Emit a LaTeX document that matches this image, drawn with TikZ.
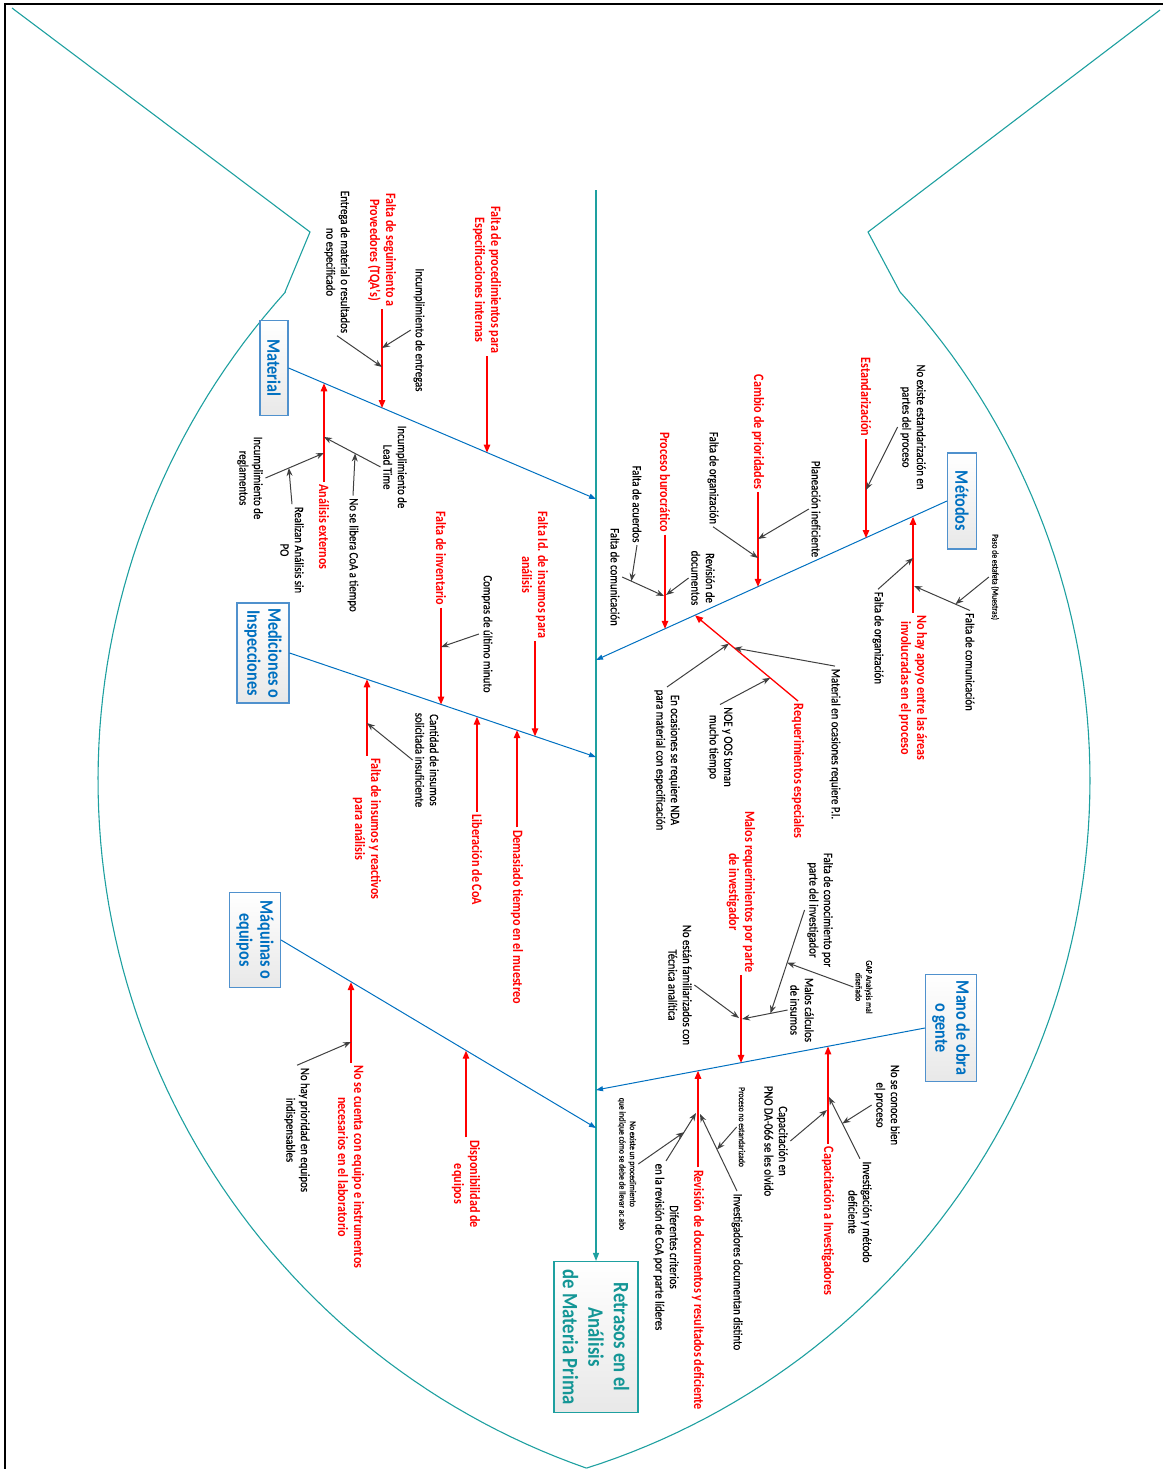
\documentclass[tikz,border=0pt]{standalone}
\usepackage{fontspec}
\setmainfont{Carlito}[FakeStretch=0.85]
\newfontfamily\blkfamily{Carlito}[FakeStretch=0.85, FakeBold=0.35]
\usetikzlibrary{arrows.meta,calc}

\definecolor{bonec}{RGB}{0,112,192}
\definecolor{fishc}{RGB}{30,160,160}
\definecolor{effc}{RGB}{20,150,150}
\definecolor{boxline}{RGB}{80,145,205}
\definecolor{arrc}{RGB}{64,64,64}
\definecolor{cred}{RGB}{255,0,0}

\newcommand\fsRed{\fontsize{14.3}{16}\selectfont\bfseries}
\newcommand\fsBlk{\blkfamily\fontsize{12.7}{14.5}\selectfont}
\newcommand\fsTiny{\blkfamily\fontsize{9}{10.5}\selectfont}
\newcommand\fsCat{\fontsize{19}{21}\selectfont\bfseries}
\newcommand\fsEff{\fontsize{22}{25.5}\selectfont\bfseries}

\tikzset{
  redlab/.style={rotate=-90, text=cred, font=\fsRed, align=center, inner sep=2.5pt},
  blklab/.style={rotate=-90, font=\fsBlk, align=center, inner sep=2.5pt},
  tinylab/.style={rotate=-90, font=\fsTiny, align=center, inner sep=2pt},
  catbox/.style={rotate=-90, draw=boxline, line width=1.1pt, top color=white,
    bottom color=black!9, text=bonec, font=\fsCat, align=center, inner sep=0pt},
  effbox/.style={rotate=-90, draw=fishc, line width=1.1pt, top color=white,
    bottom color=black!9, text=effc, font=\fsEff, align=center, inner sep=0pt},
  fishline/.style={draw=fishc, line width=1.1pt},
  spinearrow/.style={draw=fishc, line width=1.2pt, -{Triangle[length=8pt,width=6pt]}},
  bonearrow/.style={draw=bonec, line width=1pt, -{Triangle[length=7pt,width=5pt]}},
  redarrow/.style={draw=cred, line width=1.3pt, -{Triangle[length=8pt,width=6.5pt]}},
  greyarrow/.style={draw=arrc, line width=1pt, -{Stealth[length=8pt,width=6pt]}}
}

\begin{document}
\begin{tikzpicture}[x=1pt,y=-1pt]
\useasboundingbox (0,0) rectangle (1163,1469);

% frame
\draw[line width=2pt] (5,1469) -- (5,4) -- (1163,4);

% fish outline
\draw[fishline] (12,8) -- (310,232) -- (285,292)
  -- plot[domain=222:109.3, samples=90, variable=\t] ({827+729*cos(\t)},{780+729*sin(\t)});
\draw[fishline] (1160,10) -- (868,232) -- (900,292)
  -- plot[domain=-42.5:72.4, samples=90, variable=\t] ({368+722*cos(\t)},{780+722*sin(\t)});

% effect and spine
\node[effbox, minimum width=151pt, minimum height=84pt] (eff) at (596,1337)
  {Retrasos en el\\Análisis\\de Materia Prima};
\coordinate (sTop) at (596,190);
\draw[spinearrow] (sTop) -- (eff.west);

% category boxes
\node[catbox, minimum width=95pt, minimum height=28pt] (mat) at (274,368) {Material};
\node[catbox, minimum width=100pt, minimum height=52pt] (med) at (263,653) {Mediciones o\\Inspecciones};
\node[catbox, minimum width=95pt, minimum height=51pt] (maq) at (255,940) {Máquinas o\\equipos};
\node[catbox, minimum width=96pt, minimum height=29pt] (met) at (962,501) {Métodos};
\node[catbox, minimum width=107pt, minimum height=51pt] (mano) at (951,1028) {Mano de obra\\o gente};

% main bones
\coordinate (sMat) at (596,499);
\coordinate (sMet) at (596,660);
\coordinate (sMed) at (596,757);
\coordinate (sMano) at (596,1090);
\coordinate (sMaq) at (596,1128);
\draw[bonearrow] (mat.north) -- (sMat);
\draw[bonearrow] (med.north) -- (sMed);
\draw[bonearrow] (maq.north) -- (sMaq);
\draw[bonearrow] (met.south) -- (sMet);
\draw[bonearrow] (mano.south) -- (sMano);

% ---------- Material ----------
\node[redlab] (r1) at (487,280) {Falta de procedimientos para\\Especificaciones internas};
\coordinate (pA) at (487,452.6);
\draw[redarrow] (r1) -- (pA);
\node[redlab] (r2) at (382,250) {Falta de seguimiento a\\Proveedores (TQA’s)};
\coordinate (pB) at (382,408);
\draw[redarrow] (r2) -- (pB);
\node[blklab] (k1) at (419,330) {Incumplimiento de entregas};
\coordinate (q1) at (382,348);
\draw[greyarrow] (k1.south) -- (q1);
\node[blklab] (k2) at (337,262) {Entrega de material o resultados\\no especificado};
\coordinate (q2) at (382,367);
\draw[greyarrow] (k2.east) -- (q2);
\node[redlab] (r3) at (324,527) {Análisis externos};
\coordinate (pC) at (324,383.3);
\draw[redarrow] (r3) -- (pC);
\node[blklab] (k3) at (395,467) {Incumplimiento de\\Lead Time};
\coordinate (q3) at (324,437);
\draw[greyarrow] (k3.south) -- (q3);
\node[blklab] (k4) at (353,555) {No se libera CoA a tiempo};
\draw[greyarrow] (k4.west) -- ($(k3.south)!.45!(q3)$);
\node[blklab] (k5) at (250,478) {Incumplimiento de\\reglamentos};
\coordinate (q5) at (324,453);
\draw[greyarrow] (k5.north) -- (q5);
\node[blklab] (k6) at (292,550) {Realizan Análisis sin\\PO};
\draw[greyarrow] (k6.west) -- ($(k5.north)!.40!(q5)$);

% ---------- Mediciones o Inspecciones ----------
\node[redlab] (r4) at (535,575) {Falta Id. de insumos para\\análisis};
\coordinate (pD) at (535,736.3);
\draw[redarrow] (r4) -- (pD);
\node[redlab] (r5) at (441,558) {Falta de inventario};
\coordinate (pE) at (441,704.5);
\draw[redarrow] (r5) -- (pE);
\node[blklab] (k7) at (487,634) {Compras de último minuto};
\coordinate (q7) at (441,647);
\draw[greyarrow] (k7.south) -- (q7);
\node[redlab] (r6) at (517,917) {Demasiado tiempo en el muestreo};
\coordinate (pF) at (517,730.2);
\draw[redarrow] (r6) -- (pF);
\node[redlab] (r7) at (477,860) {Liberación de CoA};
\coordinate (pG) at (477,716.7);
\draw[redarrow] (r7) -- (pG);
\node[redlab] (r8) at (367,829) {Falta de insumos y reactivos\\para análisis};
\coordinate (pH) at (367,679.4);
\draw[redarrow] (r8) -- (pH);
\node[blklab] (k8) at (427,760) {Cantidad de insumos\\solicitada insuficiente};
\coordinate (q8) at (367,723);
\draw[greyarrow] (k8.south) -- (q8);

% ---------- Máquinas o equipos ----------
\node[redlab] (r9) at (351,1167) {No se cuenta con equipo e instrumentos\\necesarios en el laboratorio};
\coordinate (pI) at (351,982.2);
\draw[redarrow] (r9) -- (pI);
\node[blklab] (k9) at (297,1130) {No hay prioridad en equipos\\indispensables};
\coordinate (q9) at (351,1042);
\draw[greyarrow] (k9.west) -- (q9);
\node[redlab] (r10) at (466,1184) {Disponibilidad de\\equipos};
\coordinate (pJ) at (466,1050.7);
\draw[redarrow] (r10) -- (pJ);

% ---------- Métodos ----------
\node[redlab] (r11) at (866,397) {Estandarización};
\coordinate (pK) at (866,538);
\draw[redarrow] (r11) -- (pK);
\node[blklab] (k10) at (913,427) {No existe estandarización en\\partes del proceso};
\coordinate (q10) at (866,490);
\draw[greyarrow] (k10.south) -- (q10);
\node[redlab] (r12) at (758,432) {Cambio de prioridades};
\coordinate (pL) at (758,586.8);
\draw[redarrow] (r12) -- (pL);
\node[blklab] (k11) at (816,509) {Planeación ineficiente};
\coordinate (q11) at (758,539);
\draw[greyarrow] (k11.south) -- (q11);
\node[blklab] (k12) at (713,478) {Falta de organización};
\coordinate (q12) at (758,558);
\draw[greyarrow] (k12.east) -- (q12);
\node[redlab] (r13) at (665,482) {Proceso burocrático};
\coordinate (pM) at (665,628.8);
\draw[redarrow] (r13) -- (pM);
\node[blklab] (k13) at (637,504) {Falta de acuerdos};
\node[blklab] (k14) at (615,577) {Falta de comunicación};
\coordinate (q14) at (664,596);
\draw[greyarrow] (k14.north) -- (q14);
\draw[greyarrow] (k13.east) -- ($(k14.north)!.22!(q14)$);
\node[blklab] (k15) at (703,578) {Revisión de\\documentos};
\coordinate (q15) at (666,595);
\draw[greyarrow] (k15.south) -- (q15);
\node[redlab] (r14) at (913,688) {No hay apoyo entre las áreas\\involucradas en el proceso};
\coordinate (pN) at (913,516.8);
\draw[redarrow] (r14) -- (pN);
\node[blklab] (k16) at (878,638) {Falta de organización};
\coordinate (q16) at (913,558);
\draw[greyarrow] (k16.west) -- (q16);
\node[blklab] (k17) at (970,662) {Falta de comunicación};
\coordinate (q17) at (914,586);
\draw[greyarrow] (k17.west) -- (q17);
\node[tinylab] (k18) at (995,577) {Paso de estafeta (Muestras)};
\draw[greyarrow] (k18.south) -- ($(k17.west)!.26!(q17)$);

% requerimientos especiales
\node[redlab] (r15) at (798,771) {Requerimientos especiales};
\coordinate (pO) at (695,615.3);
\draw[redarrow] (r15.west) -- (pO);
\node[blklab] (k19) at (835,744) {Material en ocasiones requiere P.I.};
\draw[greyarrow] (k19.west) -- ($(r15.west)!.62!(pO)$);
\node[blklab] (k20) at (720,747) {NOE y OOS toman\\mucho tiempo};
\draw[greyarrow] (k20.west) -- ($(r15.west)!.27!(pO)$);
\node[blklab] (k21) at (667,760) {En ocasiones se requiere NDA\\para material con especificación};
\draw[greyarrow] (k21.west) -- ($(r15.west)!.67!(pO)$);

% ---------- Mano de obra o gente ----------
\node[redlab] (r16) at (741,892) {Malos requerimientos por parte\\de investigador};
\coordinate (pP) at (741,1062.8);
\draw[redarrow] (r16) -- (pP);
\node[blklab] (k22) at (820,910) {Falta de conocimiento por\\parte del investigador};
\node[blklab] (k24) at (802,1010) {Malos cálculos\\de insumos};
\coordinate (q24) at (742,1019);
\draw[greyarrow] (k24.south) -- (q24);
\coordinate (q22) at ($(k24.south)!.375!(q24)$);
\draw[greyarrow] (k22.south) -- (q22);
\node[tinylab] (k23) at (864,987) {GAP Analysis mal\\diseñado};
\draw[greyarrow] (k23.south) -- ($(k22.south)!.51!(q22)$);
\node[blklab] (k25) at (680,985) {No están familiarizados con\\Técnica analítica};
\coordinate (q25) at (739,1018);
\draw[greyarrow] (k25.north) -- (q25);

\node[redlab] (r17) at (828,1221) {Capacitación a Investigadores};
\coordinate (pQ) at (828,1046.4);
\draw[redarrow] (r17) -- (pQ);
\node[blklab] (k27) at (860,1212) {Investigación y método\\deficiente};
\coordinate (q27) at (829,1097);
\draw[greyarrow] (k27.west) -- (q27);
\node[blklab] (k26) at (887,1105) {No se conoce bien\\el proceso};
\draw[greyarrow] (k26.south) -- ($(k27.west)!.57!(q27)$);
\node[blklab] (k28) at (776,1141) {Capacitación en\\PNO DA-066 se les olvido};
\coordinate (q28) at (827,1110);
\draw[greyarrow] (k28.north) -- (q28);

\node[redlab] (r18) at (698,1290) {Revisión de documentos y resultados deficiente};
\coordinate (pR) at (698,1070.8);
\draw[redarrow] (r18) -- (pR);
\node[blklab] (k29) at (737,1272) {Investigadores documentan distinto};
\coordinate (q29) at (700,1114);
\draw[greyarrow] (k29.west) -- (q29);
\node[tinylab] (k30) at (742,1127) {Proceso no estandarizado};
\draw[greyarrow] (k30.south) -- ($(k29.west)!.54!(q29)$);
\node[blklab] (k31) at (666,1247) {Diferentes criterios\\en la revisión de CoA por parte líderes};
\coordinate (q31) at (696,1113);
\draw[greyarrow] (k31.west) -- (q31);
\node[tinylab] (k32) at (627,1164) {No existe un procedimiento\\que indique cómo se debe de llevar ac abo};
\draw[greyarrow] (k32.north) -- ($(k31.west)!.6!(q31)$);

\end{tikzpicture}
\end{document}
